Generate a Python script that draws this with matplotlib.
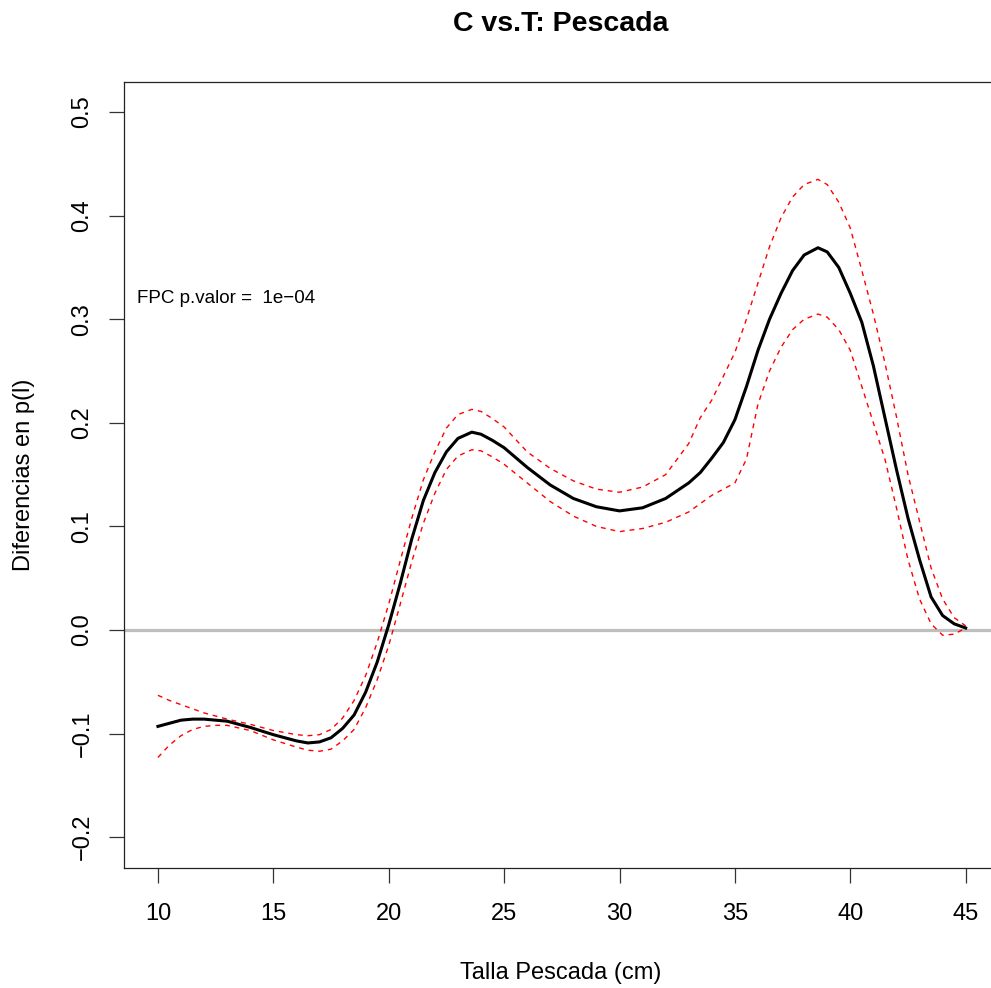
import matplotlib
matplotlib.use("Agg")
import matplotlib.pyplot as plt

plt.rcParams['font.family'] = ['Liberation Sans', 'DejaVu Sans']

# talla (cm) and difference in p(l)
talla = [10, 10.5, 11, 11.5, 12, 12.5, 13, 14, 15, 16, 16.5, 17, 17.5, 18, 18.5, 19,
         19.5, 20, 20.5, 21, 21.5, 22, 22.5, 23, 23.6, 24, 24.5, 25, 26, 27, 28, 29,
         30, 31, 32, 33, 33.5, 34, 34.5, 35, 35.5, 36, 36.5, 37, 37.5, 38, 38.6, 39,
         39.5, 40, 40.5, 41, 41.5, 42, 42.5, 43, 43.5, 44, 44.5, 45]

dif = [-0.093, -0.090, -0.087, -0.086, -0.086, -0.087, -0.088, -0.094, -0.101, -0.107,
       -0.109, -0.108, -0.104, -0.095, -0.082, -0.060, -0.031, 0.005, 0.045, 0.088,
       0.125, 0.152, 0.172, 0.185, 0.191, 0.189, 0.183, 0.176, 0.157, 0.140,
       0.127, 0.119, 0.115, 0.118, 0.127, 0.142, 0.152, 0.166, 0.181, 0.203,
       0.235, 0.270, 0.300, 0.325, 0.347, 0.362, 0.369, 0.365, 0.350, 0.325,
       0.297, 0.255, 0.205, 0.155, 0.108, 0.068, 0.032, 0.014, 0.006, 0.002]

sup = [-0.063, -0.068, -0.072, -0.076, -0.080, -0.083, -0.086, -0.091, -0.097, -0.101,
       -0.102, -0.101, -0.096, -0.085, -0.068, -0.044, -0.012, 0.025, 0.067, 0.108,
       0.145, 0.172, 0.195, 0.208, 0.213, 0.211, 0.204, 0.196, 0.172, 0.156,
       0.144, 0.136, 0.133, 0.138, 0.150, 0.180, 0.205, 0.222, 0.245, 0.268,
       0.300, 0.335, 0.370, 0.398, 0.418, 0.430, 0.435, 0.430, 0.413, 0.388,
       0.347, 0.305, 0.258, 0.206, 0.150, 0.105, 0.060, 0.030, 0.012, 0.004]

inf = [-0.123, -0.111, -0.102, -0.096, -0.093, -0.092, -0.092, -0.097, -0.106, -0.113,
       -0.116, -0.117, -0.115, -0.107, -0.096, -0.075, -0.048, -0.015, 0.025, 0.066,
       0.103, 0.132, 0.155, 0.168, 0.174, 0.173, 0.167, 0.160, 0.142, 0.124,
       0.110, 0.100, 0.095, 0.098, 0.104, 0.114, 0.122, 0.130, 0.136, 0.142,
       0.165, 0.218, 0.250, 0.273, 0.290, 0.300, 0.305, 0.302, 0.290, 0.270,
       0.235, 0.200, 0.165, 0.118, 0.068, 0.030, 0.006, -0.005, -0.004, 0.002]

xticks = [10, 15, 20, 25, 30, 35, 40, 45]
yticks = [-0.2, -0.1, 0.0, 0.1, 0.2, 0.3, 0.4, 0.5]

fig = plt.figure(figsize=(9.91, 9.88), dpi=100)
ax = fig.add_axes([124 / 991, 120 / 988, 874 / 991, 786 / 988])

ax.axhline(0, color='#bebebe', lw=2.3, zorder=1)
ax.plot(talla, sup, color='red', lw=1.0, dashes=(3.5, 3.5), zorder=2)
ax.plot(talla, inf, color='red', lw=1.0, dashes=(3.5, 3.5), zorder=2)
ax.plot(talla, dif, color='black', lw=2.2, zorder=3)

ax.text(12.95, 0.32, 'FPC p.valor =  1e\u221204', ha='center', va='center', fontsize=13.5)

ax.set_xlim(8.53, 46.4)
ax.set_ylim(-0.2297, 0.529)
ax.set_xticks(xticks)
ax.set_xticklabels([str(t) for t in xticks])
ax.set_yticks(yticks)
ax.set_yticklabels(['\u22120.2', '\u22120.1', '0.0', '0.1', '0.2', '0.3', '0.4', '0.5'],
                   rotation=90, va='center')
ax.tick_params(axis='both', labelsize=17, length=11, width=0.9, color='#333333')
ax.tick_params(axis='x', pad=14)
ax.tick_params(axis='y', pad=11)
for s in ax.spines.values():
    s.set_linewidth(0.9)
    s.set_color('#222222')

ax.set_xlabel('Talla Pescada (cm)', fontsize=17, labelpad=27)
ax.set_ylabel('Diferencias en p(l)', fontsize=17, labelpad=26)
fig.suptitle('C vs.T: Pescada', fontsize=20.5, fontweight='bold', x=561 / 991, y=0.976, va='center')

fig.savefig('out.png', dpi=100)
